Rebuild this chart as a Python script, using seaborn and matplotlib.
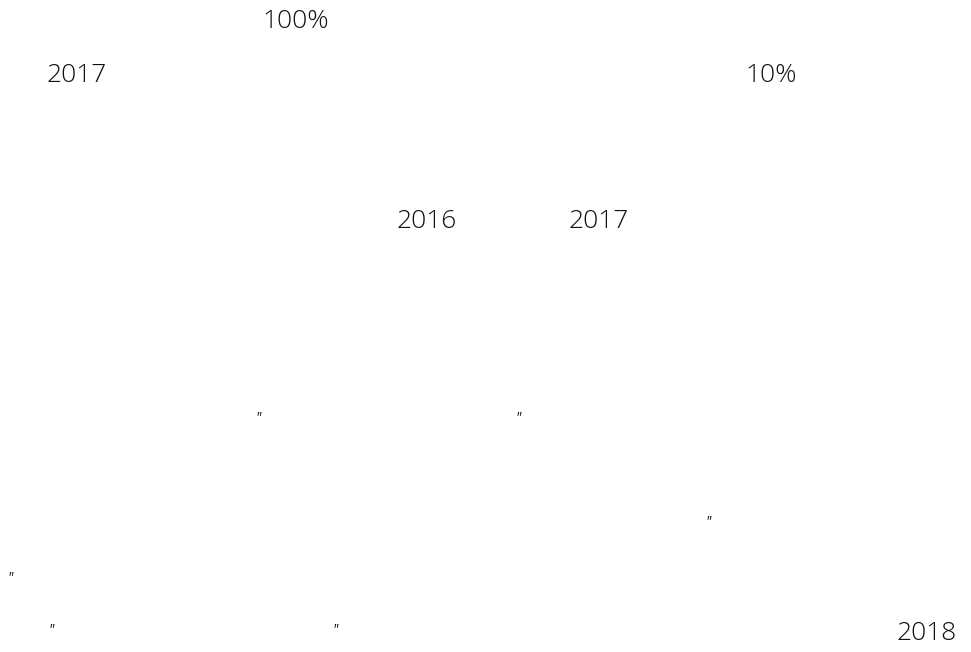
import matplotlib
matplotlib.use("Agg")
import matplotlib.pyplot as plt
import seaborn as sns

# Text fragments visible in the reference (the rest of the glyphs are blank)
labels = ["100%", "2017", "10%", "2016", "2017", '"', '"', '"', '"', '"', '"', "2018"]
# layout: left x and centre y in pixels of a 971x652 canvas
label_x = [262, 47, 745, 397, 569, 255, 515, 705, 7, 48, 332, 896]
label_y = [22, 76, 76, 222, 222, 415, 415, 520, 575, 628, 628, 633]

sns.set_theme(style="white")
plt.rcParams['font.family'] = ['Open Sans', 'DejaVu Sans']

W, H = 971, 652
fig = plt.figure(figsize=(W / 100, H / 100), dpi=100)
ax = fig.add_axes([0, 0, 1, 1])
ax.set_xlim(0, W)
ax.set_ylim(H, 0)
ax.axis("off")

for t, x, y in zip(labels, label_x, label_y):
    if t == '"':
        ax.text(x, y + 3, t, ha="left", va="center", fontsize=10,
                fontstyle="italic", color="#111111")
    else:
        ax.text(x, y, t, ha="left", va="center", fontsize=19,
                fontweight="light", color="#111111")

fig.savefig("out.png", dpi=100, facecolor="white")
